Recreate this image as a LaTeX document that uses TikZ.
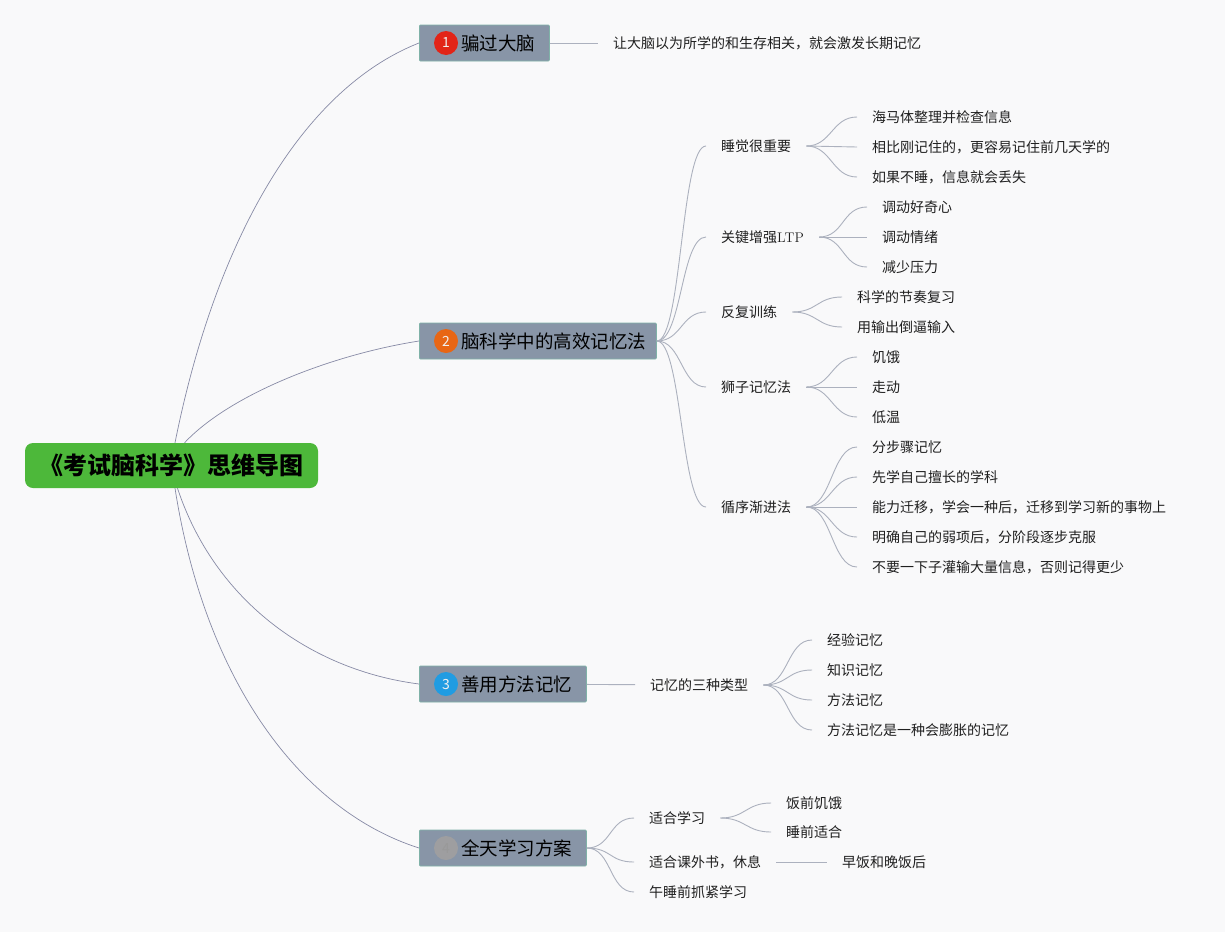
\documentclass[tikz,border=0pt]{standalone}
\usepackage{fontspec}
\newfontfamily\cjk{Noto Sans CJK SC}
\usetikzlibrary{positioning}

\definecolor{paper}{RGB}{249,249,250}
\definecolor{rootgreen}{RGB}{77,184,58}
\definecolor{boxgray}{RGB}{136,149,167}
\definecolor{boxedge}{RGB}{128,178,168}
\definecolor{trunk}{RGB}{135,138,165}
\definecolor{twig}{RGB}{172,177,190}
\definecolor{dotred}{RGB}{226,36,24}
\definecolor{dotorange}{RGB}{232,102,20}
\definecolor{dotblue}{RGB}{32,156,226}
\definecolor{dotgray}{RGB}{158,158,160}

\tikzset{
  rootbox/.style={fill=rootgreen, rounded corners=8pt, minimum width=293pt, minimum height=45pt,
    font=\cjk\bfseries\fontsize{24}{28}\selectfont},
  branch/.style={anchor=west, fill=boxgray, draw=boxedge, line width=0.8pt, rounded corners=1pt,
    minimum height=36pt, inner xsep=14pt, font=\cjk\fontsize{18.5}{22}\selectfont},
  numdot/.style={circle, minimum size=24pt, inner sep=0pt, text=white!88!gray,
    font=\cjk\fontsize{14}{14}\selectfont},
  leaf/.style={anchor=west, inner xsep=15pt, inner ysep=2pt, text=black!88,
    font=\cjk\fontsize{14}{17}\selectfont},
  trunkline/.style={draw=trunk, line width=0.7pt},
  twigline/.style={draw=twig, line width=0.9pt},
}

\begin{document}
\begin{tikzpicture}[x=1pt, y=-1pt]
		\fill [paper] (0,0) rectangle (1225,932);
		\useasboundingbox (0,0) rectangle (1225,932);
		% root and main branches
		\node [rootbox](root) at (171.5,465.5) {《考试脑科学》思维导图};
		\node [branch](b1) at (419,43) {\hspace*{28pt}骗过大脑};
		\node [branch, text width=209pt](b2) at (419,341) {\hspace*{28pt}脑科学中的高效记忆法};
		\node [branch](b3) at (419,684) {\hspace*{28pt}善用方法记忆};
		\node [branch](b4) at (419,848) {\hspace*{28pt}全天学习方案};
		\node [numdot, fill=dotred](n1) at ([xshift=27pt]b1.west) {1};
		\node [numdot, fill=dotorange](n2) at ([xshift=27pt]b2.west) {2};
		\node [numdot, fill=dotblue](n3) at ([xshift=27pt]b3.west) {3};
		\node [numdot, fill=dotgray, text=gray!80](n4) at ([xshift=27pt]b4.west) {4};
		\draw [trunkline] ([xshift=3.5pt]root.north) .. controls +(40,-200) and +(-119,47) .. (b1.west);
		\draw [trunkline] ([xshift=13pt]root.north) .. controls +(45,-48) and +(-89,14) .. (b2.west);
		\draw [trunkline] ([xshift=6pt]root.south) .. controls +(37,112) and +(-109,-14) .. (b3.west);
		\draw [trunkline] ([xshift=3.5pt]root.south) .. controls +(30,192) and +(-119,-38) .. (b4.west);
		% branch 1
		\node [leaf](k1) at (598,43) {让大脑以为所学的和生存相关，就会激发长期记忆};
		\draw [twigline] (b1) -- (k1);
		% branch 2
		\node [leaf](s1) at (706,146) {睡觉很重要};
		\node [leaf](s2) at (706,237) {关键增强{\rmfamily LTP}};
		\node [leaf](s3) at (706,312) {反复训练};
		\node [leaf](s4) at (706,387) {狮子记忆法};
		\node [leaf](s5) at (706,507) {循序渐进法};
		\draw [twigline] (b2.east) .. controls +(25,0) and +(-25,0) .. (s1.west);
		\draw [twigline] (b2.east) .. controls +(25,0) and +(-25,0) .. (s2.west);
		\draw [twigline] (b2.east) .. controls +(25,0) and +(-25,0) .. (s3.west);
		\draw [twigline] (b2.east) .. controls +(25,0) and +(-25,0) .. (s4.west);
		\draw [twigline] (b2.east) .. controls +(25,0) and +(-25,0) .. (s5.west);
		\node [leaf](s11) at (857,117) {海马体整理并检查信息};
		\node [leaf](s12) at (857,147) {相比刚记住的，更容易记住前几天学的};
		\node [leaf](s13) at (857,177) {如果不睡，信息就会丢失};
		\draw [twigline] (s1.east) .. controls +(25,0) and +(-25,0) .. (s11.west);
		\draw [twigline] (s1.east) -- (s12.west);
		\draw [twigline] (s1.east) .. controls +(25,0) and +(-25,0) .. (s13.west);
		\node [leaf](s21) at (867,207) {调动好奇心};
		\node [leaf](s22) at (867,237) {调动情绪};
		\node [leaf](s23) at (867,267) {减少压力};
		\draw [twigline] (s2.east) .. controls +(25,0) and +(-25,0) .. (s21.west);
		\draw [twigline] (s2.east) -- (s22.west);
		\draw [twigline] (s2.east) .. controls +(25,0) and +(-25,0) .. (s23.west);
		\node [leaf](s31) at (842,297) {科学的节奏复习};
		\node [leaf](s32) at (842,327) {用输出倒逼输入};
		\draw [twigline] (s3.east) .. controls +(25,0) and +(-25,0) .. (s31.west);
		\draw [twigline] (s3.east) .. controls +(25,0) and +(-25,0) .. (s32.west);
		\node [leaf](s41) at (857,357) {饥饿};
		\node [leaf](s42) at (857,387) {走动};
		\node [leaf](s43) at (857,417) {低温};
		\draw [twigline] (s4.east) .. controls +(25,0) and +(-25,0) .. (s41.west);
		\draw [twigline] (s4.east) -- (s42.west);
		\draw [twigline] (s4.east) .. controls +(25,0) and +(-25,0) .. (s43.west);
		\node [leaf](s51) at (857,447) {分步骤记忆};
		\node [leaf](s52) at (857,477) {先学自己擅长的学科};
		\node [leaf](s53) at (857,507) {能力迁移，学会一种后，迁移到学习新的事物上};
		\node [leaf](s54) at (857,537) {明确自己的弱项后，分阶段逐步克服};
		\node [leaf](s55) at (857,567) {不要一下子灌输大量信息，否则记得更少};
		\draw [twigline] (s5.east) .. controls +(25,0) and +(-25,0) .. (s51.west);
		\draw [twigline] (s5.east) .. controls +(25,0) and +(-25,0) .. (s52.west);
		\draw [twigline] (s5.east) -- (s53.west);
		\draw [twigline] (s5.east) .. controls +(25,0) and +(-25,0) .. (s54.west);
		\draw [twigline] (s5.east) .. controls +(25,0) and +(-25,0) .. (s55.west);
		% branch 3
		\node [leaf](t1) at (635,685) {记忆的三种类型};
		\draw [twigline] (b3) -- (t1);
		\node [leaf](t11) at (812,640) {经验记忆};
		\node [leaf](t12) at (812,670) {知识记忆};
		\node [leaf](t13) at (812,700) {方法记忆};
		\node [leaf](t14) at (812,730) {方法记忆是一种会膨胀的记忆};
		\draw [twigline] (t1.east) .. controls +(25,0) and +(-25,0) .. (t11.west);
		\draw [twigline] (t1.east) .. controls +(25,0) and +(-25,0) .. (t12.west);
		\draw [twigline] (t1.east) .. controls +(25,0) and +(-25,0) .. (t13.west);
		\draw [twigline] (t1.east) .. controls +(25,0) and +(-25,0) .. (t14.west);
		% branch 4
		\node [leaf](u1) at (634,818) {适合学习};
		\node [leaf](u2) at (634,862) {适合课外书，休息};
		\node [leaf](u3) at (634,892) {午睡前抓紧学习};
		\draw [twigline] (b4.east) .. controls +(25,0) and +(-25,0) .. (u1.west);
		\draw [twigline] (b4.east) .. controls +(25,0) and +(-25,0) .. (u2.west);
		\draw [twigline] (b4.east) .. controls +(25,0) and +(-25,0) .. (u3.west);
		\node [leaf](u11) at (771,803) {饭前饥饿};
		\node [leaf](u12) at (771,832) {睡前适合};
		\draw [twigline] (u1.east) .. controls +(25,0) and +(-25,0) .. (u11.west);
		\draw [twigline] (u1.east) .. controls +(25,0) and +(-25,0) .. (u12.west);
		\node [leaf](u21) at (827,862) {早饭和晚饭后};
		\draw [twigline] (u2) -- (u21);
\end{tikzpicture}
\end{document}
